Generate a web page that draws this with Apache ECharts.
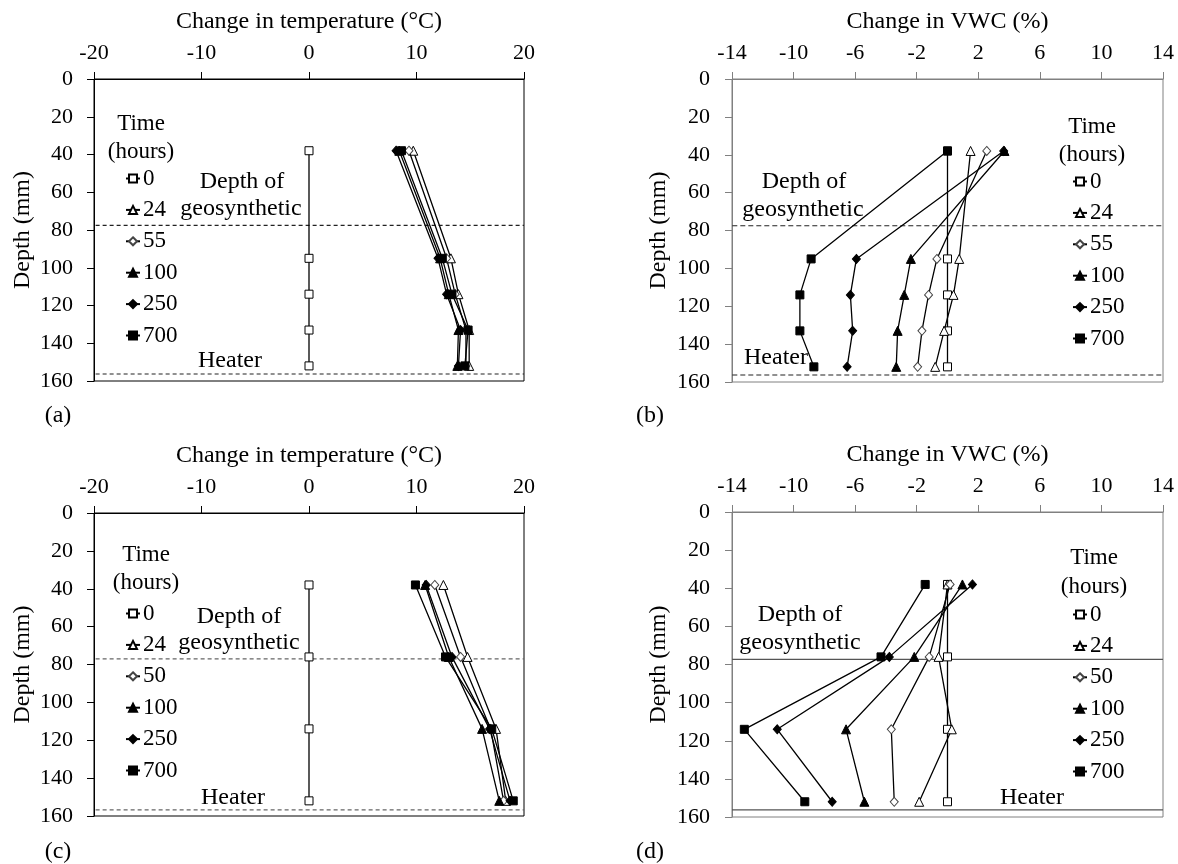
<!DOCTYPE html>
<html>
<head>
<meta charset="utf-8">
<script src="https://cdn.jsdelivr.net/npm/echarts@6/dist/echarts.min.js"></script>
<style>
  html, body { margin: 0; padding: 0; background: #fff; }
  #chart { width: 1178px; height: 864px; }
</style>
</head>
<body>
<div id="chart"></div>
<script>
// depths of the sensors (mm)
const depthsAB = [38, 95, 114, 133, 152];
const depthsCD = [38, 76, 114, 152];
// legend names (hours)
const hoursAB = ['0', '24', '55', '100', '250', '700'];
const hoursCD = ['0', '24', '50', '100', '250', '700'];
// (a) change in temperature, one row per time
const tempA = [
    [0, 0, 0, 0, 0],
    [9.7, 13.2, 13.9, 14.9, 14.9],
    [9.3, 12.8, 13.6, 14.6, 14.6],
    [8.4, 12.2, 13.0, 13.9, 13.8],
    [8.1, 12.0, 12.8, 14.1, 13.9],
    [8.6, 12.4, 13.3, 14.8, 14.5],
];
// (b) change in VWC
const vwcB = [
    [0, 0, 0, 0, 0],
    [1.5, 0.76, 0.39, -0.22, -0.8],
    [2.55, -0.69, -1.23, -1.66, -1.94],
    [3.7, -2.38, -2.81, -3.24, -3.33],
    [3.65, -5.92, -6.31, -6.16, -6.52],
    [0, -8.86, -9.59, -9.59, -8.68],
];
// (c) change in temperature
const tempC = [
    [0, 0, 0, 0],
    [12.5, 14.75, 17.4, 18.3],
    [11.7, 14.1, 16.9, 18.1],
    [10.8, 13.0, 16.1, 17.7],
    [10.9, 13.3, 16.8, 18.7],
    [9.9, 12.7, 17.0, 19.0],
];
// (d) change in VWC
const vwcD = [
    [0, 0, 0, 0],
    [0, -0.58, 0.28, -1.84],
    [0.17, -1.19, -3.65, -3.46],
    [0.97, -2.16, -6.59, -5.4],
    [1.62, -3.78, -11.06, -7.49],
    [-1.45, -4.32, -13.2, -9.27],
];
// tick labels
const tempTicks = [-20, -10, 0, 10, 20];
const vwcTicks = [-14, -10, -6, -2, 2, 6, 10, 14];
// reference depths (mm) per panel
const geoDepth = [77.6, 77.5, 77.0, 77.3];
const heaterDepth = [156.3, 156.3, 156.8, 156.3];
// horizontal extent of the reference lines per panel
const refLineX = [[-20.5, 20], [-14.5, 14], [-20.5, 20], [-14, 14]];

const FONT = '"Liberation Serif", "Times New Roman", serif';

const marks = [
    { symbol: 'rect', size: 8, fill: '#fff', stroke: '#000' },
    { symbol: 'triangle', size: 9, fill: '#fff', stroke: '#000' },
    { symbol: 'diamond', size: [8, 9], fill: '#fff', stroke: '#444' },
    { symbol: 'triangle', size: 9, fill: '#000', stroke: '#000' },
    { symbol: 'diamond', size: [8, 9], fill: '#000', stroke: '#000' },
    { symbol: 'rect', size: 8, fill: '#000', stroke: '#000' },
];

let series = [];
function addProfile(vals, depths, names, gi)
{
    vals.forEach((row, i) =>
    {
        let m = marks[i];
        series.push({
            type: 'line',
            name: names[i],
            xAxisIndex: gi,
            yAxisIndex: gi,
            data: depths.map((d, k) => [row[k], d]),
            symbol: m.symbol,
            symbolSize: m.size,
            showAllSymbol: true,
            itemStyle: { color: m.fill, borderColor: m.stroke, borderWidth: 1 },
            lineStyle: { color: '#000', width: 1.3 },
            emphasis: { disabled: true },
            z: 3 + i,
        });
    });
}
addProfile(tempA, depthsAB, hoursAB, 0);
addProfile(vwcB, depthsAB, hoursAB, 1);
addProfile(tempC, depthsCD, hoursCD, 2);
addProfile(vwcD, depthsCD, hoursCD, 3);

// geosynthetic / heater lines
const refStyle = [
    { color: '#222', type: [4, 3] },
    { color: '#222', type: [5, 3] },
    { color: '#666', type: [4, 3] },
    { color: '#555', type: 'solid' },
];
[geoDepth, heaterDepth].forEach((arr, j) =>
{
    arr.forEach((d, gi) =>
    {
        series.push({
            type: 'line',
            name: (j ? 'heater' : 'geo') + gi,
            xAxisIndex: gi,
            yAxisIndex: gi,
            data: refLineX[gi].map(x => [x, d]),
            symbol: 'none',
            clip: false,
            silent: true,
            lineStyle: { color: refStyle[gi].color, type: refStyle[gi].type, width: 1.2 },
            z: 2,
        });
    });
});

const grids = [
    { left: 94, top: 79, width: 430, height: 302 },
    { left: 732, top: 79, width: 431, height: 303 },
    { left: 94, top: 513, width: 430, height: 303 },
    { left: 732, top: 512, width: 431, height: 305 },
];
const axisColor = ['#000', '#808080', '#000', '#808080'];

let xAxis = grids.map((g, gi) =>
{
    let isTemp = gi % 2 === 0;
    let ticks = isTemp ? tempTicks : vwcTicks;
    return {
        gridIndex: gi,
        type: 'value',
        position: 'top',
        min: ticks[0],
        max: ticks[ticks.length - 1],
        interval: isTemp ? 10 : 4,
        name: isTemp ? 'Change in temperature (°C)' : 'Change in VWC (%)',
        nameLocation: 'middle',
        nameGap: 45,
        nameTextStyle: { fontSize: 24, fontFamily: FONT, color: '#000' },
        axisLine: { show: true, lineStyle: { color: axisColor[gi], width: 1 } },
        axisTick: { show: true, inside: false, length: 7, customValues: ticks, lineStyle: { color: axisColor[gi] } },
        axisLabel: { fontSize: 22, fontFamily: FONT, color: '#000', margin: 15, customValues: ticks },
        splitLine: { show: false },
    };
});

let yAxis = grids.map((g, gi) => ({
    gridIndex: gi,
    type: 'value',
    inverse: true,
    min: 0,
    max: 160,
    interval: 20,
    name: 'Depth (mm)',
    nameLocation: 'middle',
    nameGap: gi % 2 === 0 ? 59 : 61,
    nameTextStyle: { fontSize: 24, fontFamily: FONT, color: '#000' },
    axisLine: { show: true, onZero: false, lineStyle: { color: axisColor[gi], width: 1 } },
    axisTick: { show: true, inside: false, length: 7, lineStyle: { color: axisColor[gi] } },
    axisLabel: { fontSize: 22, fontFamily: FONT, color: '#000', margin: gi % 2 === 0 ? 21 : 22 },
    splitLine: { show: false },
}));

const legendPos = [[120, 162], [1067, 165], [120, 597], [1067, 598]];
let legend = legendPos.map((p, gi) => ({
    data: gi < 2 ? hoursAB : hoursCD,
    orient: 'vertical',
    left: p[0],
    top: p[1],
    itemWidth: 14,
    itemHeight: 10,
    itemGap: 8.4,
    selectedMode: false,
    textStyle: { fontSize: 23, fontFamily: FONT, color: '#000', lineHeight: 22, padding: [0, 0, 0, -2] },
}));

function txt(s, x, y, size)
{
    return {
        type: 'text', x: x, y: y, silent: true,
        style: { text: s, font: (size || 24) + 'px ' + FONT, fill: '#000', align: 'center', verticalAlign: 'middle' },
    };
}
let graphic = [
    txt('Time', 141, 124, 23), txt('(hours)', 141, 152, 23),
    txt('Time', 1092, 127, 23), txt('(hours)', 1092, 155, 23),
    txt('Time', 146, 555, 23), txt('(hours)', 146, 583, 23),
    txt('Time', 1094, 558, 23), txt('(hours)', 1094, 587, 23),
    txt('Depth of', 242, 182), txt('geosynthetic', 241, 209), txt('Heater', 230, 361),
    txt('Depth of', 804, 182), txt('geosynthetic', 803, 210), txt('Heater', 776, 358),
    txt('Depth of', 239, 617), txt('geosynthetic', 239, 643), txt('Heater', 233, 798),
    txt('Depth of', 800, 615), txt('geosynthetic', 800, 643), txt('Heater', 1032, 798),
    txt('(a)', 58, 416), txt('(b)', 650, 416), txt('(c)', 58, 852), txt('(d)', 650, 852),
];

let myChart = echarts.init(document.getElementById('chart'));
myChart.setOption({
    animation: false,
    backgroundColor: '#fff',
    textStyle: { fontFamily: FONT },
    grid: grids.map((g, gi) => Object.assign({ show: true, borderColor: axisColor[gi], borderWidth: 1, backgroundColor: 'transparent' }, g)),
    xAxis: xAxis,
    yAxis: yAxis,
    legend: legend,
    graphic: graphic,
    series: series,
});
</script>
</body>
</html>
